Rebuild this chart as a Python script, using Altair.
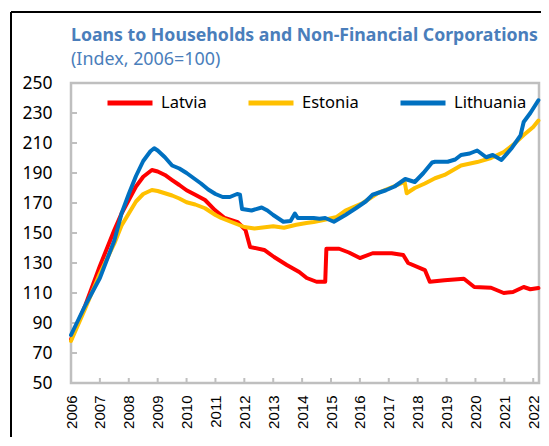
import altair as alt
import pandas as pd

series_names = ["Latvia", "Estonia", "Lithuania"]
series_colors = ["#FF0000", "#FFC000", "#0070C0"]

lat_t = [2006.0, 2006.5, 2007.0, 2007.5, 2007.75, 2008.0, 2008.25, 2008.5, 2008.8, 2009.0,
         2009.25, 2009.5, 2009.75, 2010.0, 2010.3, 2010.64, 2010.98, 2011.32, 2011.77, 2012.04,
         2012.2, 2012.69, 2013.03, 2013.47, 2013.9, 2014.16, 2014.5, 2014.8, 2014.84, 2015.28,
         2015.62, 2016.0, 2016.44, 2017.1, 2017.5, 2017.67, 2018.25, 2018.42, 2018.93, 2019.6,
         2019.96, 2020.54, 2020.98, 2021.3, 2021.67, 2021.9, 2022.18]
lat_v = [79, 102, 128, 152, 163, 172, 181, 187.5, 192, 191,
         188.7, 185.3, 182, 178.5, 175.5, 172, 165.3, 160, 157.3, 152,
         140.7, 138.7, 134, 128.7, 124, 120, 117.5, 117.5, 139.5, 139.5,
         137, 133.3, 136.5, 136.5, 135.3, 130, 125.3, 117.5, 118.5, 119.5,
         114, 113.5, 110, 110.7, 114, 112.5, 113.3]

est_t = [2006.0, 2006.5, 2007.0, 2007.5, 2007.75, 2008.0, 2008.25, 2008.5, 2008.8, 2009.0,
         2009.25, 2009.5, 2009.75, 2010.0, 2010.3, 2010.64, 2011.0, 2011.2, 2011.53, 2012.0,
         2012.35, 2013.0, 2013.37, 2013.8, 2014.15, 2014.4, 2014.74, 2015.2, 2015.5, 2016.1,
         2016.65, 2017.1, 2017.55, 2017.62, 2017.9, 2018.25, 2018.6, 2018.93, 2019.5, 2020.06,
         2020.54, 2020.98, 2021.3, 2021.67, 2022.0, 2022.18]
est_v = [78, 100, 123, 143, 155, 163, 171, 176, 178.7, 178,
         176.5, 175, 173, 170.5, 169, 166.5, 162, 160, 157.5, 154,
         153, 154.5, 153.5, 155.5, 156.7, 157.3, 158.7, 160.7, 165, 170,
         177, 180.5, 184, 176.5, 180, 183, 186.5, 188.7, 195, 197.3,
         200, 204, 208.7, 215.3, 220.7, 225]

lit_t = [2006.0, 2006.5, 2007.0, 2007.5, 2007.75, 2008.0, 2008.25, 2008.5, 2008.75, 2008.88,
         2009.0, 2009.25, 2009.5, 2009.75, 2010.0, 2010.25, 2010.5, 2010.75, 2011.0, 2011.25,
         2011.5, 2011.75, 2011.85, 2011.92, 2012.25, 2012.6, 2012.8, 2013.0, 2013.35, 2013.6,
         2013.75, 2013.85, 2014.15, 2014.4, 2014.6, 2014.8, 2015.1, 2015.5, 2015.86, 2016.2,
         2016.44, 2016.9, 2017.2, 2017.57, 2017.9, 2018.2, 2018.5, 2018.6, 2019.04, 2019.3,
         2019.5, 2019.8, 2020.06, 2020.37, 2020.6, 2020.9, 2021.26, 2021.56, 2021.67, 2021.9,
         2022.18]
lit_v = [82, 102, 120, 145, 163, 176, 188, 198, 204.5, 206.5,
         205, 200.5, 195, 193, 190, 186.5, 183, 179, 176, 174,
         174, 176, 175.5, 166, 165, 167, 165, 162, 157.5, 158,
         163, 160, 160, 160, 159.5, 160, 157.5, 162, 166.5, 171,
         175.5, 178.5, 181, 186, 184, 190, 197, 197.5, 197.5, 199,
         202, 203, 205, 200.5, 202, 198.7, 206.7, 215, 224, 230,
         238.5]

y_ticks = [50, 70, 90, 110, 130, 150, 170, 190, 210, 230, 250]
x_ticks = list(range(2006, 2023))

rows = []
for name, ts, vs in [("Latvia", lat_t, lat_v), ("Estonia", est_t, est_v), ("Lithuania", lit_t, lit_v)]:
    for t, v in zip(ts, vs):
        rows.append({"series": name, "t": t, "v": v})
df = pd.DataFrame(rows)

xscale = alt.Scale(domain=[2006, 2022.2], nice=False, zero=False)
yscale = alt.Scale(domain=[50, 250], nice=False, zero=False)

x_axis = alt.Axis(values=x_ticks, format="d", labelAngle=-90, ticks=False, domain=False,
                  grid=False, title=None, labelFont="Liberation Sans", labelFontSize=15,
                  labelPadding=12, labelColor="black", labelOverlap=False)
y_axis = alt.Axis(values=y_ticks, ticks=False, domain=False, grid=False, title=None,
                  labelFont="Noto Sans", labelFontSize=17.5, labelPadding=19,
                  labelColor="black", labelOverlap=False)

lines = alt.Chart(df).mark_line(strokeWidth=4, strokeJoin="round", strokeCap="round").encode(
    x=alt.X("t:Q", scale=xscale, axis=x_axis),
    y=alt.Y("v:Q", scale=yscale, axis=y_axis),
    color=alt.Color("series:N", sort=series_names,
                    scale=alt.Scale(domain=series_names, range=series_colors),
                    legend=alt.Legend(orient="none", legendX=34, legendY=-5, direction="horizontal",
                                      title=None, symbolType="stroke", symbolSize=2025,
                                      symbolStrokeWidth=5, labelFont="Noto Sans", labelFontSize=16.5,
                                      labelColor="black", columnPadding=31, labelOffset=6,
                                      padding=0)),
    detail="series:N",
)

ytick_df = pd.DataFrame({"v": y_ticks})
xtick_df = pd.DataFrame({"t": x_ticks})

yticks = alt.Chart(ytick_df).mark_rule(color="#BFBFBF", strokeWidth=2).encode(
    y=alt.Y("v:Q", scale=yscale, axis=y_axis), x=alt.value(0), x2=alt.value(6))
xticks = alt.Chart(xtick_df).mark_rule(color="#BFBFBF", strokeWidth=2).encode(
    x=alt.X("t:Q", scale=xscale, axis=x_axis), y=alt.value(300), y2=alt.value(295))

one = pd.DataFrame({"a": [0]})
frame_left = alt.Chart(one).mark_rule(color="black", strokeWidth=2).encode(
    x=alt.value(-60), y=alt.value(-71), y2=alt.value(380))
frame_top = alt.Chart(one).mark_rule(color="black", strokeWidth=2).encode(
    x=alt.value(-60), x2=alt.value(490), y=alt.value(-71))

chart = alt.layer(frame_left, frame_top, yticks, xticks, lines).properties(
    width=468, height=300,
    autosize="none",
    padding={"left": 63, "top": 75, "right": 2, "bottom": 54},
    title=alt.TitleParams(text="Loans to Households and Non-Financial Corporations",
                          subtitle="(Index, 2006=100)", anchor="start", frame="group",
                          font="Noto Sans", fontSize=17.7, fontWeight="bold", color="#4A7EBB",
                          subtitleFont="Noto Sans", subtitleFontSize=17.9, subtitleColor="#4A7EBB",
                          subtitlePadding=6, offset=14, dy=72),
).configure_view(stroke="#BFBFBF", strokeWidth=2.5)

chart.save("out.html", embed_options={"renderer": "svg", "actions": False})
